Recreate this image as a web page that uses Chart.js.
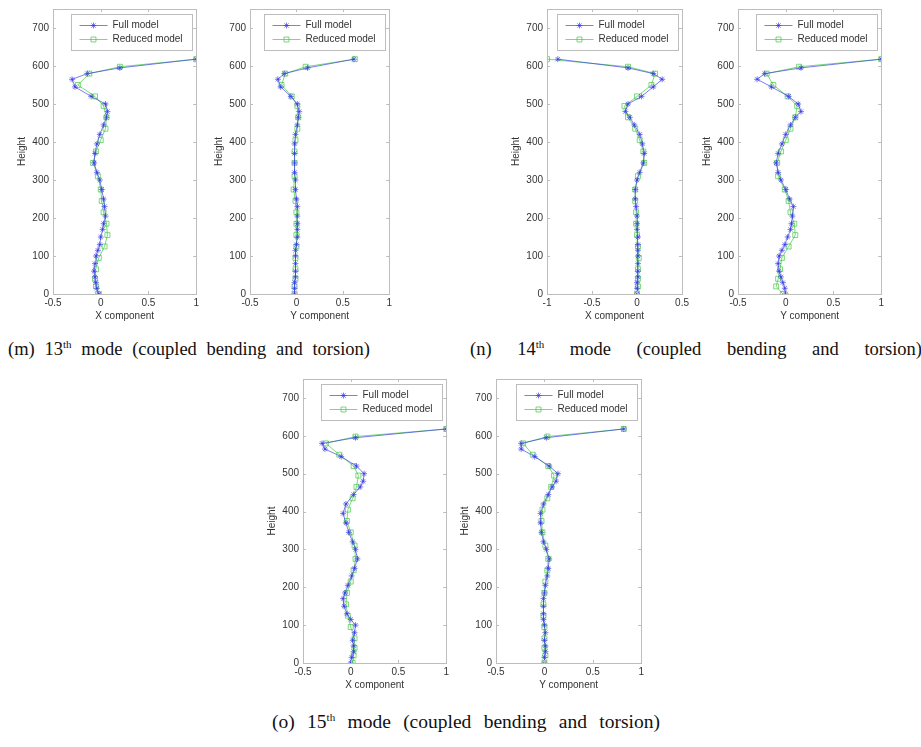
<!DOCTYPE html>
<html>
<head>
<meta charset="utf-8">
<script src="https://cdn.jsdelivr.net/npm/chart.js@4.4.1/dist/chart.umd.min.js"></script>
<style>
  html, body { margin: 0; padding: 0; background: #fff; }
  body { width: 921px; height: 747px; position: relative; overflow: hidden; }
  .panel { position: absolute; }
  .cap { position: absolute; width: max-content; font-family: "Liberation Serif", "Times New Roman", serif; color: #111; white-space: nowrap; line-height: 1; }
  .cap sup { font-size: 11px; vertical-align: 0; position: relative; top: -7px; }
</style>
</head>
<body>
<canvas id="mX" class="panel"></canvas>
<canvas id="mY" class="panel"></canvas>
<canvas id="nX" class="panel"></canvas>
<canvas id="nY" class="panel"></canvas>
<canvas id="oX" class="panel"></canvas>
<canvas id="oY" class="panel"></canvas>
<div class="cap" id="capM">(m) 13<sup>th</sup> mode (coupled bending and torsion)</div>
<div class="cap" id="capN">(n) 14<sup>th</sup> mode (coupled bending and torsion)</div>
<div class="cap" id="capO">(o) 15<sup>th</sup> mode (coupled bending and torsion)</div>
<script>
// ---- DATA ----
const heightsFull = [0,15,30,45,60,80,100,115,130,150,170,185,205,230,250,275,300,320,345,370,395,420,445,465,480,500,520,545,565,580,595,618];
const heightsReduced = [0,20,40,65,95,125,155,185,215,245,275,310,345,375,405,435,465,495,520,550,580,598,618];
const yTicks = [0,100,200,300,400,500,600,700];
const seriesNames = ["Full model", "Reduced model"];

const mX_full = [-0.02,-0.04,-0.05,-0.06,-0.07,-0.06,-0.05,-0.03,-0.01,0.0,0.02,0.03,0.05,0.04,0.03,0.01,-0.01,-0.04,-0.07,-0.06,-0.04,-0.01,0.03,0.06,0.07,0.05,-0.1,-0.27,-0.3,-0.14,0.2,1.0];
const mX_reduced = [-0.03,-0.05,-0.06,-0.05,-0.02,0.04,0.07,0.06,0.03,0.01,0.0,-0.03,-0.08,-0.05,0.0,0.05,0.06,0.03,-0.06,-0.24,-0.12,0.2,1.0];
const mY_full = [-0.02,-0.02,-0.02,-0.01,-0.01,-0.01,-0.01,-0.01,0.0,0.01,0.01,0.01,0.01,0.01,0.0,-0.01,-0.01,-0.02,-0.02,-0.02,-0.02,-0.01,0.01,0.02,0.03,0.01,-0.06,-0.17,-0.2,-0.13,0.12,0.62];
const mY_reduced = [-0.02,-0.02,-0.01,-0.01,-0.01,0.0,0.0,0.0,0.0,-0.01,-0.03,-0.02,-0.02,-0.02,-0.01,0.01,0.02,0.01,-0.05,-0.16,-0.12,0.1,0.63];
const nX_full = [0.0,0.0,0.0,0.01,0.01,0.01,0.01,0.01,0.01,0.01,0.0,0.0,0.0,-0.01,-0.02,-0.02,0.0,0.03,0.07,0.08,0.06,0.03,-0.03,-0.08,-0.13,-0.1,0.05,0.18,0.28,0.18,-0.1,-0.88];
const nX_reduced = [0.0,0.01,0.01,0.01,0.02,0.01,0.0,-0.01,-0.01,-0.02,-0.02,0.01,0.08,0.07,0.03,-0.02,-0.1,-0.14,0.0,0.16,0.2,-0.1,-1.0];
const nY_full = [0.0,-0.01,-0.03,-0.05,-0.07,-0.08,-0.07,-0.04,-0.01,0.02,0.05,0.06,0.07,0.08,0.04,0.0,-0.05,-0.08,-0.1,-0.08,-0.04,0.0,0.05,0.1,0.16,0.13,0.03,-0.15,-0.3,-0.22,0.16,1.0];
const nY_reduced = [-0.03,-0.1,-0.08,-0.06,-0.04,0.03,0.1,0.09,0.05,0.03,-0.01,-0.08,-0.09,-0.05,0.0,0.05,0.1,0.12,0.02,-0.13,-0.2,0.14,1.0];
const oX_full = [0.0,0.01,0.03,0.03,0.02,0.04,0.05,0.0,-0.04,-0.07,-0.08,-0.06,-0.03,0.01,0.04,0.07,0.05,0.02,-0.02,-0.05,-0.08,-0.05,0.03,0.1,0.13,0.14,0.06,-0.1,-0.27,-0.3,0.05,1.0];
const oX_reduced = [0.02,0.03,0.04,0.04,0.0,-0.03,-0.05,-0.04,0.0,0.03,0.05,0.04,0.0,-0.04,-0.03,0.02,0.06,0.08,0.03,-0.12,-0.26,0.05,1.0];
const oY_full = [0.0,0.0,0.01,0.01,0.0,0.01,0.0,-0.01,-0.01,-0.01,-0.01,0.0,0.01,0.03,0.04,0.05,0.02,-0.01,-0.03,-0.04,-0.04,-0.01,0.04,0.08,0.12,0.14,0.05,-0.1,-0.24,-0.24,0.02,0.82];
const oY_reduced = [0.0,0.01,0.0,0.0,0.0,-0.01,-0.01,0.0,0.01,0.03,0.04,0.01,-0.02,-0.03,-0.02,0.03,0.07,0.1,0.04,-0.12,-0.22,0.03,0.82];

const xTicksA = [-0.5,0,0.5,1];
const xTicksB = [-1,-0.5,0,0.5];

// ---- LAYOUT ----
const panels = [
  {id:'mX', L:53,  T:4,   W:144, H:290, xr:[-0.5,1], xt:xTicksA, title:'X component', full:mX_full, red:mX_reduced},
  {id:'mY', L:250, T:4,   W:140, H:290, xr:[-0.5,1], xt:xTicksA, title:'Y component', full:mY_full, red:mY_reduced},
  {id:'nX', L:547, T:4,   W:140, H:290, xr:[-1,0.5], xt:xTicksB, title:'X component', full:nX_full, red:nX_reduced},
  {id:'nY', L:738, T:4,   W:144, H:290, xr:[-0.5,1], xt:xTicksA, title:'Y component', full:nY_full, red:nY_reduced},
  {id:'oX', L:303, T:374, W:144, H:289, xr:[-0.5,1], xt:xTicksA, title:'X component', full:oX_full, red:oX_reduced},
  {id:'oY', L:496, T:374, W:146, H:289, xr:[-0.5,1], xt:xTicksA, title:'Y component', full:oY_full, red:oY_reduced}
];

const FONT = '"Liberation Sans", Arial, sans-serif';
const BLUE = 'rgba(50,50,230,0.8)';
const GREEN = 'rgba(60,200,60,0.85)';
const PAD_L = 55, PAD_T = 5, PAD_R = 5, XH = 30;

const boxPlugin = {
  id: 'box',
  afterDraw(chart) {
    const {ctx, chartArea: ca, scales} = chart;
    ctx.save();
    ctx.strokeStyle = '#bdbdbd';
    ctx.lineWidth = 1;
    ctx.strokeRect(Math.round(ca.left)+0.5, Math.round(ca.top)+0.5, Math.round(ca.right-ca.left), Math.round(ca.bottom-ca.top));
    ctx.beginPath();
    scales.x.ticks.forEach(t => {
      const px = Math.round(scales.x.getPixelForValue(t.value)) + 0.5;
      ctx.moveTo(px, ca.top); ctx.lineTo(px, ca.top + 3);
      ctx.moveTo(px, ca.bottom); ctx.lineTo(px, ca.bottom - 3);
    });
    scales.y.ticks.forEach(t => {
      const py = Math.round(scales.y.getPixelForValue(t.value)) + 0.5;
      ctx.moveTo(ca.left, py); ctx.lineTo(ca.left + 3, py);
      ctx.moveTo(ca.right, py); ctx.lineTo(ca.right - 3, py);
    });
    ctx.stroke();
    // legend box (MATLAB style, inside axes, north-east)
    const w = 121, h = 36;
    const x = Math.round(ca.right - 4 - w) + 0.5, y = Math.round(ca.top + 5) + 0.5;
    ctx.fillStyle = '#fff';
    ctx.fillRect(x, y, w, h);
    ctx.strokeStyle = '#bdbdbd';
    ctx.strokeRect(x, y, w, h);
    const ds = chart.data.datasets;
    [0,1].forEach(i => {
      const ry = y + 11 + i * 14;
      ctx.strokeStyle = ds[i].borderColor;
      ctx.lineWidth = 0.8;
      ctx.beginPath(); ctx.moveTo(x + 8, ry); ctx.lineTo(x + 36, ry); ctx.stroke();
      ctx.fillStyle = 'rgba(0,0,0,0)';
      Chart.helpers.drawPoint(ctx, {pointStyle: ds[i].pointStyle, radius: ds[i].pointRadius, borderWidth: 0.8, rotation: 0}, x + 22, ry);
      ctx.fillStyle = '#333';
      ctx.font = '10px ' + FONT;
      ctx.textBaseline = 'middle';
      ctx.textAlign = 'left';
      ctx.fillText(seriesNames[i], x + 41, ry);
    });
    ctx.restore();
  }
};

panels.forEach(p => {
  const cv = document.getElementById(p.id);
  const cw = p.W + PAD_L + PAD_R, ch = p.H + PAD_T + XH;
  cv.width = cw; cv.height = ch;
  cv.style.left = (p.L - PAD_L) + 'px';
  cv.style.top = (p.T - PAD_T) + 'px';
  cv.style.width = cw + 'px'; cv.style.height = ch + 'px';
  const fullPts = heightsFull.map((h, i) => ({x: p.full[i], y: h}));
  const redPts = heightsReduced.map((h, i) => ({x: p.red[i], y: h}));
  new Chart(cv, {
    type: 'scatter',
    data: {
      datasets: [
        {label: seriesNames[0], data: fullPts, showLine: true, borderColor: BLUE, backgroundColor: 'transparent',
         borderWidth: 0.8, pointStyle: 'star', pointRadius: 3, pointBorderColor: BLUE, pointBorderWidth: 0.8, order: 1},
        {label: seriesNames[1], data: redPts, showLine: true, borderColor: GREEN, backgroundColor: 'transparent',
         borderWidth: 0.8, pointStyle: 'rect', pointRadius: 3.5, pointBorderColor: GREEN, pointBackgroundColor: 'transparent', pointBorderWidth: 0.8, order: 2}
      ]
    },
    options: {
      responsive: false, animation: false, devicePixelRatio: 1,
      layout: {padding: {left: 0, top: PAD_T, right: PAD_R, bottom: 0}},
      plugins: {legend: {display: false}, tooltip: {enabled: false}},
      scales: {
        x: {
          type: 'linear', min: p.xr[0], max: p.xr[1],
          afterBuildTicks: s => { s.ticks = p.xt.map(v => ({value: v})); },
          afterFit: s => { s.height = XH; },
          grid: {display: false, drawTicks: false},
          border: {display: false},
          ticks: {color: '#333', font: {family: FONT, size: 10}, padding: 3, maxRotation: 0, autoSkip: false,
                  callback: v => String(v)},
          title: {display: true, text: p.title, color: '#333', font: {family: FONT, size: 10}, padding: {top: 0, bottom: 2}}
        },
        y: {
          type: 'linear', min: 0, max: 750,
          afterBuildTicks: s => { s.ticks = yTicks.map(v => ({value: v})); },
          afterFit: s => { s.width = PAD_L; },
          grid: {display: false, drawTicks: false},
          border: {display: false},
          ticks: {color: '#333', font: {family: FONT, size: 10}, padding: 4, autoSkip: false},
          title: {display: true, text: 'Height', color: '#333', font: {family: FONT, size: 10}, padding: {top: 18, bottom: 0}}
        }
      }
    },
    plugins: [boxPlugin]
  });
});

// captions: justified (extra word spacing) to match the reference widths
function placeCaption(id, left, top, size, targetWidth) {
  const el = document.getElementById(id);
  el.style.fontSize = size + 'px';
  el.style.left = left + 'px';
  el.style.top = top + 'px';
  el.style.wordSpacing = '0px';
  const natural = el.getBoundingClientRect().width;
  const gaps = 6;
  el.style.wordSpacing = Math.max(0, (targetWidth - natural) / gaps) + 'px';
}
placeCaption('capM', 8, 340, 18.5, 362);
placeCaption('capN', 470, 340, 18.5, 452);
placeCaption('capO', 272, 712, 19.5, 388);
</script>
</body>
</html>
